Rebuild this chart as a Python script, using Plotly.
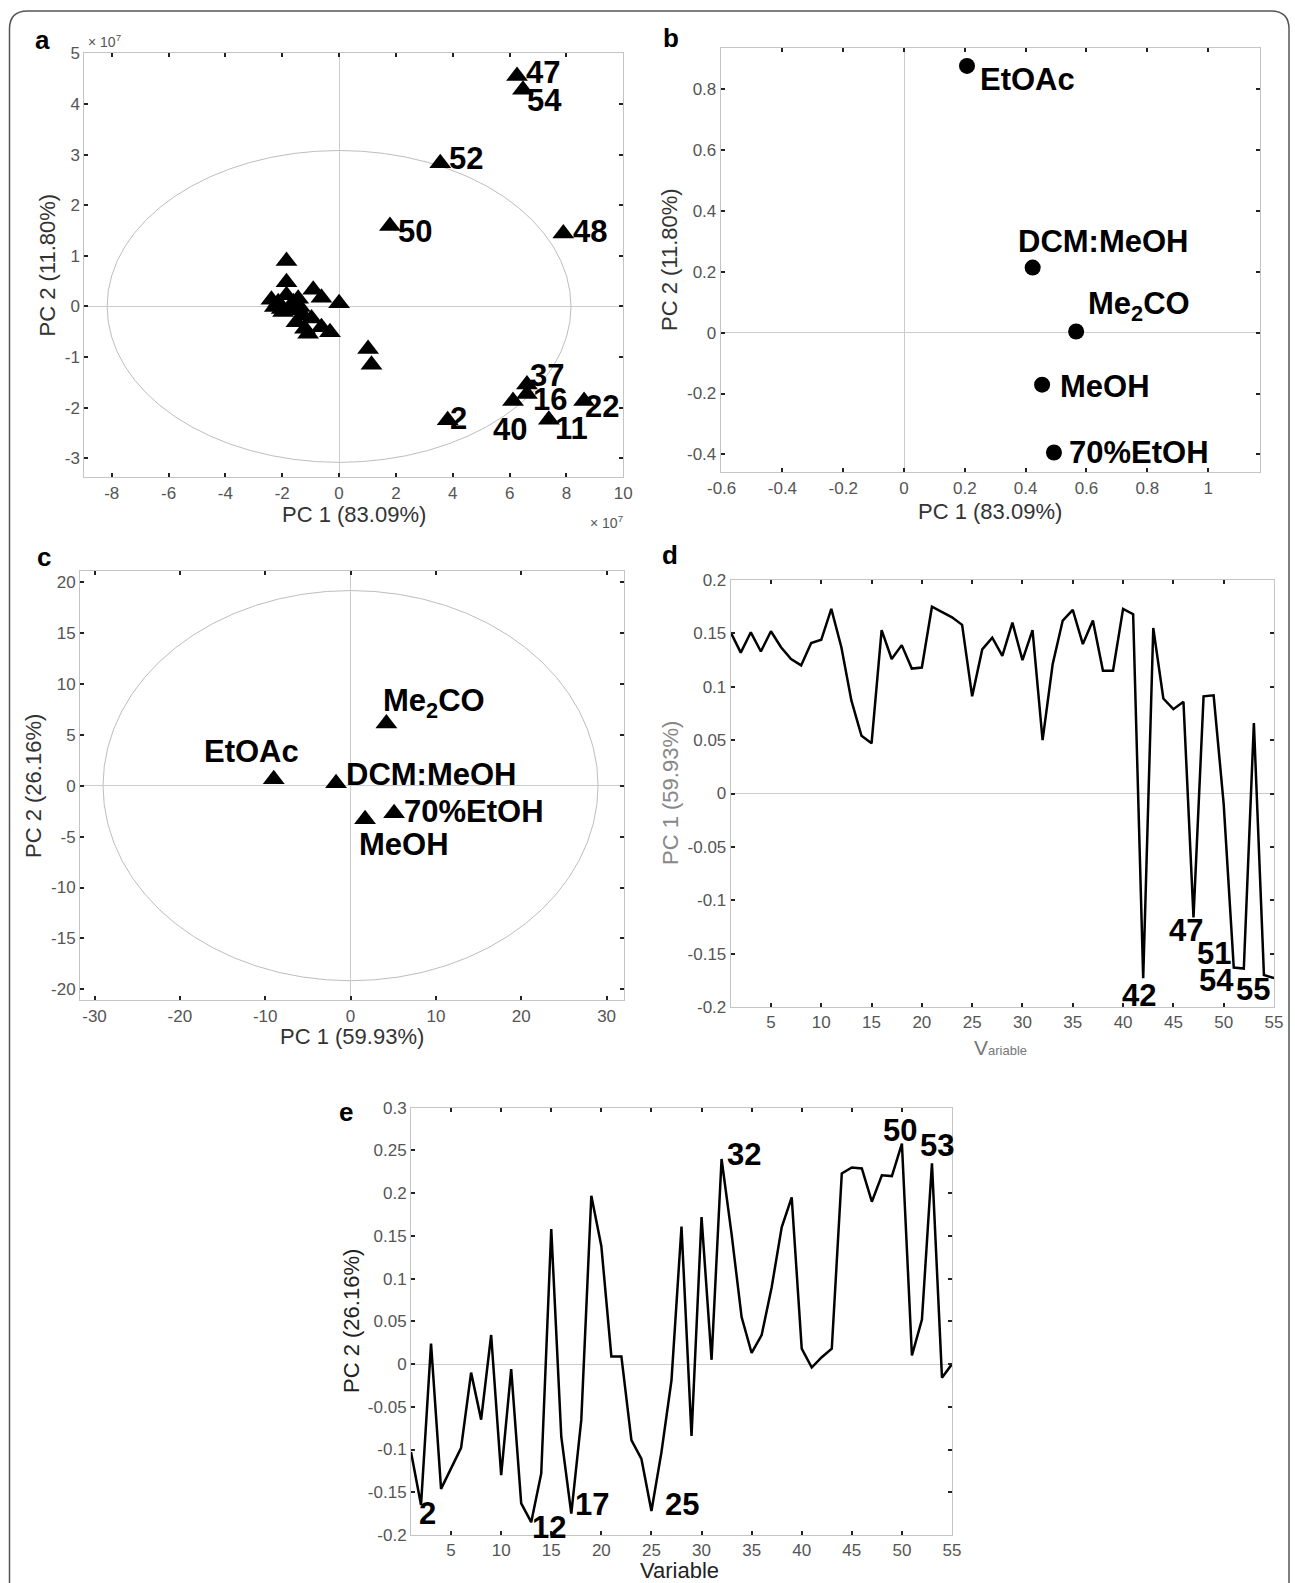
import plotly.graph_objects as go

W, H = 1295, 1583

# ---------------- Panel a (PC scores, units of 1e7) ----------------
a_pts_x = [6.26, 6.47, 3.56, 1.79, 7.89, 6.61, 6.61, 6.12, 8.62, 7.38, 3.82]
a_pts_y = [4.55, 4.28, 2.83, 1.59, 1.44, -1.54, -1.73, -1.87, -1.87, -2.24, -2.25]
a_lab_text = ["47", "54", "52", "50", "48", "37", "16", "40", "22", "11", "2"]
a_lab_x = [6.51, 6.55, 3.79, 2.0, 8.15, 6.66, 6.76, 5.35, 8.59, 7.53, 3.82]
a_lab_y = [4.62, 4.06, 2.93, 1.49, 1.49, -1.37, -1.84, -2.43, -1.97, -2.41, -2.21]
a_cl_x = [-1.85, -1.85, -0.91, -0.62, 0.0, -2.38, -2.14, -1.85, -1.44, -2.26, -2.02, -1.73,
          -1.38, -1.97, -1.26, -1.50, -0.97, -1.20, -1.09, -0.62, -0.32, 1.02, 1.14, -1.67, -1.61]
a_cl_y = [0.895, 0.48, 0.33, 0.17, 0.065, 0.13, 0.085, 0.22, 0.15, -0.01, -0.05, -0.01,
          -0.01, -0.11, -0.18, -0.31, -0.24, -0.44, -0.54, -0.41, -0.51, -0.84, -1.15, -0.08, 0.085]
a_ellipse = (8.16, 3.08)
a_xticks = [-8, -6, -4, -2, 0, 2, 4, 6, 8, 10]
a_yticks = [-3, -2, -1, 0, 1, 2, 3, 4, 5]

# ---------------- Panel b (loadings) ----------------
b_names = ["EtOAc", "DCM:MeOH", "Me<sub>2</sub>CO", "MeOH", "70%EtOH"]
b_x = [0.207, 0.423, 0.566, 0.454, 0.493]
b_y = [0.877, 0.214, 0.004, -0.171, -0.394]
b_lab_x = [0.243, 0.369, 0.60, 0.507, 0.537]
b_lab_y = [0.834, 0.299, 0.088, -0.177, -0.394]
b_xticks = [-0.6, -0.4, -0.2, 0, 0.2, 0.4, 0.6, 0.8, 1]
b_xtext = ["-0.6", "-0.4", "-0.2", "0", "0.2", "0.4", "0.6", "0.8", "1"]
b_yticks = [-0.4, -0.2, 0, 0.2, 0.4, 0.6, 0.8]
b_ytext = ["-0.4", "-0.2", "0", "0.2", "0.4", "0.6", "0.8"]

# ---------------- Panel c (PC scores) ----------------
c_names = ["EtOAc", "DCM:MeOH", "Me<sub>2</sub>CO", "70%EtOH", "MeOH"]
c_x = [-9.0, -1.7, 4.2, 5.1, 1.7]
c_y = [0.62, 0.23, 6.1, -2.7, -3.3]
c_lab_x = [-17.35, -0.73, 3.55, 6.07, 0.73]
c_lab_y = [3.34, 1.05, 8.16, -2.49, -5.77]
c_ellipse = (29.0, 19.15)
c_xticks = [-30, -20, -10, 0, 10, 20, 30]
c_yticks = [-20, -15, -10, -5, 0, 5, 10, 15, 20]

# ---------------- Panel d (PC1 loadings per variable) ----------------
variables = list(range(1, 56))
d_pc1 = [0.151, 0.132, 0.151, 0.133, 0.152, 0.137, 0.126, 0.120, 0.141, 0.144,
         0.173, 0.137, 0.087, 0.054, 0.047, 0.153, 0.126, 0.139, 0.117, 0.118,
         0.175, 0.170, 0.165, 0.158, 0.091, 0.135, 0.146, 0.129, 0.160, 0.125,
         0.153, 0.050, 0.121, 0.162, 0.172, 0.140, 0.162, 0.115, 0.115, 0.173,
         0.168, -0.173, 0.155, 0.089, 0.079, 0.086, -0.116, 0.091, 0.092, -0.010,
         -0.163, -0.164, 0.066, -0.170, -0.173]
d_lab_text = ["42", "47", "51", "54", "55"]
d_lab_x = [41.6, 46.3, 49.0, 49.25, 52.9]
d_lab_y = [-0.189, -0.128, -0.150, -0.175, -0.184]
var_ticks = [5, 10, 15, 20, 25, 30, 35, 40, 45, 50, 55]
d_yticks = [-0.2, -0.15, -0.1, -0.05, 0, 0.05, 0.1, 0.15, 0.2]
d_ytext = ["-0.2", "-0.15", "-0.1", "-0.05", "0", "0.05", "0.1", "0.15", "0.2"]

# ---------------- Panel e (PC2 loadings per variable) ----------------
e_pc2 = [-0.103, -0.165, 0.024, -0.146, -0.122, -0.098, -0.010, -0.065, 0.034, -0.130,
         -0.006, -0.163, -0.185, -0.128, 0.158, -0.085, -0.175, -0.065, 0.197, 0.138,
         0.009, 0.009, -0.089, -0.111, -0.172, -0.103, -0.019, 0.161, -0.084, 0.172,
         0.005, 0.240, 0.152, 0.055, 0.013, 0.034, 0.090, 0.160, 0.195, 0.018,
         -0.004, 0.008, 0.018, 0.223, 0.230, 0.229, 0.190, 0.221, 0.220, 0.258,
         0.010, 0.052, 0.235, -0.016, 0.000]
e_lab_text = ["2", "12", "17", "25", "32", "50", "53"]
e_lab_x = [2.63, 14.8, 19.1, 28.0, 34.2, 49.8, 53.5]
e_lab_y = [-0.175, -0.191, -0.164, -0.164, 0.245, 0.273, 0.256]
e_yticks = [-0.2, -0.15, -0.1, -0.05, 0, 0.05, 0.1, 0.15, 0.2, 0.25, 0.3]
e_ytext = ["-0.2", "-0.15", "-0.1", "-0.05", "0", "0.05", "0.1", "0.15", "0.2", "0.25", "0.3"]

# ---------------- styling ----------------
TICKFONT = "Liberation Sans, Arial, sans-serif"
LABFONT = "Liberation Sans, Arial, sans-serif"


def dx(l, r):
    return [l / W, r / W]


def dy(t, b):
    return [1 - b / H, 1 - t / H]


def axis(domain, rng, vals, text, anchor, zeroline=True, fcolor="#555"):
    return dict(domain=domain, range=rng, tickvals=vals, ticktext=text,
                ticks="inside", ticklen=4, tickwidth=1.5, tickcolor="#222",
                showline=True, linecolor="#c4c4c4", linewidth=1, mirror="allticks",
                showgrid=False, zeroline=zeroline, zerolinecolor="#cccccc",
                zerolinewidth=1, anchor=anchor, fixedrange=True, automargin=False,
                tickfont=dict(family=TICKFONT, size=17, color=fcolor))


fig = go.Figure()
tri = dict(symbol="triangle-up", size=19, color="black")

# a
fig.add_trace(go.Scatter(x=a_cl_x + a_pts_x, y=a_cl_y + a_pts_y, mode="markers",
                         marker=tri, xaxis="x", yaxis="y", showlegend=False))
# b
fig.add_trace(go.Scatter(x=b_x, y=b_y, mode="markers",
                         marker=dict(symbol="circle", size=16, color="black"),
                         xaxis="x2", yaxis="y2", showlegend=False))
# c
fig.add_trace(go.Scatter(x=c_x, y=c_y, mode="markers", marker=tri,
                         xaxis="x3", yaxis="y3", showlegend=False))
# d
fig.add_trace(go.Scatter(x=variables, y=d_pc1, mode="lines",
                         line=dict(color="black", width=2.5),
                         xaxis="x4", yaxis="y4", showlegend=False))
# e
fig.add_trace(go.Scatter(x=variables, y=e_pc2, mode="lines",
                         line=dict(color="black", width=2.5),
                         xaxis="x5", yaxis="y5", showlegend=False))

fig.update_layout(
    template="none",
    width=W, height=H, margin=dict(l=0, r=0, t=0, b=0, pad=0, autoexpand=False),
    paper_bgcolor="white", plot_bgcolor="white", showlegend=False,
    xaxis=axis(dx(84.3, 623.3), [-8.964, 10], a_xticks, [str(v) for v in a_xticks], "y"),
    yaxis=axis(dy(53.3, 477.3), [-3.375, 5], a_yticks, [str(v) for v in a_yticks], "x"),
    xaxis2=axis(dx(720.7, 1259.5), [-0.603, 1.169], b_xticks, b_xtext, "y2"),
    yaxis2=axis(dy(48.0, 472.3), [-0.459, 0.936], b_yticks, b_ytext, "x2"),
    xaxis3=axis(dx(80, 624), [-31.7, 32.04], c_xticks, [str(v) for v in c_xticks], "y3"),
    yaxis3=axis(dy(571.3, 1000.4), [-21.08, 21.04], c_yticks, [str(v) for v in c_yticks], "x3"),
    xaxis4=axis(dx(730.7, 1274), [1, 55], var_ticks, [str(v) for v in var_ticks], "y4", zeroline=False),
    yaxis4=axis(dy(580, 1007), [-0.2, 0.2], d_yticks, d_ytext, "x4"),
    xaxis5=axis(dx(411, 952), [1, 55], var_ticks, [str(v) for v in var_ticks], "y5", zeroline=False),
    yaxis5=axis(dy(1107.7, 1535), [-0.2, 0.3], e_yticks, e_ytext, "x5"),
)

shapes = []
shapes.append(dict(type="circle", xref="x", yref="y", x0=-a_ellipse[0], x1=a_ellipse[0],
                   y0=-a_ellipse[1], y1=a_ellipse[1], line=dict(color="#bdbdbd", width=1),
                   layer="below"))
shapes.append(dict(type="circle", xref="x3", yref="y3", x0=-c_ellipse[0], x1=c_ellipse[0],
                   y0=-c_ellipse[1], y1=c_ellipse[1], line=dict(color="#bdbdbd", width=1),
                   layer="below"))

# figure border (rounded top, open bottom)
L, R, T, RAD = 9.5, 1289.0, 11.0, 18.0


def px(x):
    return x / W


def py(y):
    return 1 - y / H


path = (f"M {px(L)},{py(H + 20)} L {px(L)},{py(T + RAD)} "
        f"Q {px(L)},{py(T)} {px(L + RAD)},{py(T)} "
        f"L {px(R - RAD)},{py(T)} Q {px(R)},{py(T)} {px(R)},{py(T + RAD)} "
        f"L {px(R)},{py(H + 20)}")
shapes.append(dict(type="path", xref="paper", yref="paper", path=path,
                   line=dict(color="#555", width=1.5)))
fig.update_layout(shapes=shapes)

ann = []


def lab(x, y, text, xr, yr, xanchor="left", size=31):
    ann.append(dict(x=x, y=y, xref=xr, yref=yr, text=text, showarrow=False,
                    xanchor=xanchor, yanchor="middle",
                    font=dict(family=LABFONT, size=size, color="black", weight="bold")))


for t, x, y in zip(a_lab_text, a_lab_x, a_lab_y):
    lab(x, y, t, "x", "y")
for t, x, y in zip(b_names, b_lab_x, b_lab_y):
    lab(x, y, t, "x2", "y2")
for t, x, y in zip(c_names, c_lab_x, c_lab_y):
    lab(x, y, t, "x3", "y3")
for t, x, y in zip(d_lab_text, d_lab_x, d_lab_y):
    lab(x, y, t, "x4", "y4", xanchor="center")
for t, x, y in zip(e_lab_text, e_lab_x, e_lab_y):
    lab(x, y, t, "x5", "y5", xanchor="center")


def ptext(xpx, ypx, text, size=20, color="#333", angle=0, bold=False, family=TICKFONT,
          xanchor="center"):
    ann.append(dict(x=px(xpx), y=py(ypx), xref="paper", yref="paper", text=text,
                    showarrow=False, xanchor=xanchor, yanchor="middle", textangle=angle,
                    font=dict(family=family, size=size, color=color,
                              weight="bold" if bold else "normal")))


# panel letters
for (xx, yy, t) in [(42, 39.5, "a"), (671, 38.5, "b"), (44, 557, "c"), (670, 555, "d"),
                    (346, 1111.5, "e")]:
    ptext(xx, yy, t, size=26, color="black", bold=True, family=LABFONT)

# axis titles
ptext(354, 514, "PC 1 (83.09%)", size=22)
ptext(47.5, 265, "PC 2 (11.80%)", size=22, angle=-90)
ptext(990, 512, "PC 1 (83.09%)", size=22)
ptext(670, 260, "PC 2 (11.80%)", size=22, angle=-90)
ptext(352, 1036, "PC 1 (59.93%)", size=22)
ptext(33, 786, "PC 2 (26.16%)", size=22, angle=-90)
ptext(670, 793, "PC 1 (59.93%)", size=22, angle=-90, color="#888")
ptext(1000, 1047, "V<span style='font-size:13px'>ariable</span>", size=21, color="#777")
ptext(351, 1321, "PC 2 (26.16%)", size=22, angle=-90, color="#222")
ptext(680, 1570, "Variable", size=22, color="#222")

# exponent notes
ptext(86, 41, "× 10<sup>7</sup>", size=14, color="#555", xanchor="left")
ptext(588, 522, "× 10<sup>7</sup>", size=14, color="#555", xanchor="left")

fig.update_layout(annotations=ann)
fig.write_html("out.html", config={"displayModeBar": False},
               post_script="document.body.style.margin='0';document.body.style.overflow='hidden';")
